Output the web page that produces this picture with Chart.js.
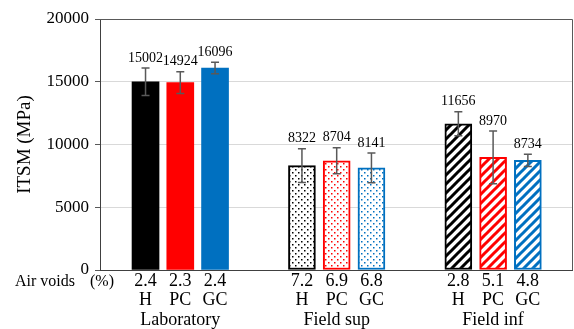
<!DOCTYPE html>
<html>
<head>
<meta charset="utf-8">
<script src="https://cdn.jsdelivr.net/npm/chart.js@4"></script>
<style>html,body{margin:0;padding:0;background:#fff}</style>
</head>
<body>
<canvas id="itsmChart" width="574" height="329"></canvas>
<script>
// Values
let groups = ['Laboratory', 'Field sup', 'Field inf'];
let mixes = ['H', 'PC', 'GC'];
let itsmLab = [15002, 14924, 16096];
let itsmSup = [8322, 8704, 8141];
let itsmInf = [11656, 8970, 8734];
let errLab = [1100, 870, 450];
let errSup = [1340, 1040, 1180];
let errInf = [950, 2100, 490];
let voidsLab = ['2.4', '2.3', '2.4'];
let voidsSup = ['7.2', '6.9', '6.8'];
let voidsInf = ['2.8', '5.1', '4.8'];
let yTicks = [0, 5000, 10000, 15000, 20000];

// Layout / styles
let groupStep = 4.5; // distance between groups, in bar slots
let colors = ['#000000', '#FF0000', '#0070C0'];
let serif = "'Liberation Serif', 'Times New Roman', serif";
let tickSize = 18;
let tickLine = 1.1;

let values = itsmLab.concat(itsmSup, itsmInf);
let errors = errLab.concat(errSup, errInf);
let voids = voidsLab.concat(voidsSup, voidsInf);
let xPos = [];
for (let g = 0; g < groups.length; g++) {
    for (let m = 0; m < mixes.length; m++) {
        xPos.push(g * groupStep + m);
    }
}

// Pattern fills: dots for field sup, stripes for field inf
function dotPattern(color){
    let c = document.createElement('canvas');
    c.width = 6; c.height = 6;
    let x = c.getContext('2d');
    x.fillStyle = '#fff';
    x.fillRect(0, 0, 6, 6);
    x.fillStyle = color;
    x.fillRect(1, 1, 1.5, 1.5);
    x.fillRect(4, 4, 1.5, 1.5);
    return x.createPattern(c, 'repeat');
}

function stripePattern(color){
    let s = 9;
    let c = document.createElement('canvas');
    c.width = s; c.height = s;
    let x = c.getContext('2d');
    x.fillStyle = '#fff';
    x.fillRect(0, 0, s, s);
    x.strokeStyle = color;
    x.lineWidth = 3;
    x.beginPath();
    x.moveTo(-2, s + 2); x.lineTo(s + 2, -2);
    x.moveTo(-2, 2); x.lineTo(2, -2);
    x.moveTo(s - 2, s + 2); x.lineTo(s + 2, s - 2);
    x.stroke();
    return x.createPattern(c, 'repeat');
}

let fills = [];
let borders = [];
let borderWidths = [];
for (let g = 0; g < groups.length; g++) {
    for (let m = 0; m < mixes.length; m++) {
        if (g == 0) fills.push(colors[m]);
        else if (g == 1) fills.push(dotPattern(colors[m]));
        else fills.push(stripePattern(colors[m]));
        borders.push(colors[m]);
        borderWidths.push(g == 0 ? 0 : 2);
    }
}

// error bars, value labels, frame and "Air voids (%)" text
const extrasPlugin = {
    id: 'extras',
    afterDatasetsDraw(chart){
        let ctx = chart.ctx;
        let yScale = chart.scales.y;
        let meta = chart.getDatasetMeta(0);
        ctx.save();
        for (let i = 0; i < values.length; i++) {
            let bx = meta.data[i].x;
            let yTop = yScale.getPixelForValue(values[i] + errors[i]);
            let yBot = yScale.getPixelForValue(values[i] - errors[i]);
            ctx.strokeStyle = '#595959';
            ctx.lineWidth = 1.5;
            ctx.beginPath();
            ctx.moveTo(bx, yTop); ctx.lineTo(bx, yBot);
            ctx.moveTo(bx - 4, yTop); ctx.lineTo(bx + 4, yTop);
            ctx.moveTo(bx - 4, yBot); ctx.lineTo(bx + 4, yBot);
            ctx.stroke();

            ctx.fillStyle = '#000';
            ctx.font = '14px ' + serif;
            ctx.textAlign = 'center';
            ctx.textBaseline = 'bottom';
            ctx.fillText(String(values[i]), bx, yTop - 3);
        }

        let area = chart.chartArea;
        ctx.strokeStyle = '#595959';
        ctx.lineWidth = 1;
        ctx.beginPath();
        ctx.moveTo(area.left, area.top + 0.5);
        ctx.lineTo(area.right + 0.5, area.top + 0.5);
        ctx.lineTo(area.right + 0.5, area.bottom);
        ctx.stroke();

        let xScale = chart.scales.x;
        let rowY = xScale.top + 2 + tickSize * tickLine / 2;
        ctx.fillStyle = '#000';
        ctx.font = '16px ' + serif;
        ctx.textBaseline = 'middle';
        ctx.textAlign = 'right';
        ctx.fillText('Air voids', 75, rowY);
        ctx.textAlign = 'left';
        ctx.fillText('(%)', 90, rowY);
        ctx.restore();
    }
};

new Chart(document.getElementById('itsmChart'), {
    type: 'bar',
    data: {
        datasets: [{
            data: values.map((v, i) => ({x: xPos[i], y: v})),
            backgroundColor: fills,
            borderColor: borders,
            borderWidth: borderWidths,
            borderSkipped: false,
            barThickness: 27
        }]
    },
    options: {
        responsive: false,
        animation: false,
        layout: {padding: {top: 19, right: 2, left: 0, bottom: 0}},
        plugins: {legend: {display: false}, tooltip: {enabled: false}},
        scales: {
            x: {
                type: 'linear',
                offset: false,
                min: -1.31,
                max: 12.27,
                afterBuildTicks: (scale) => { scale.ticks = xPos.map(v => ({value: v})); },
                afterFit: (scale) => { scale.height = 59; },
                grid: {display: false, drawTicks: false, offset: false},
                border: {display: true, color: '#404040', width: 1},
                ticks: {
                    autoSkip: false,
                    maxRotation: 0,
                    padding: 1,
                    color: '#000',
                    font: {family: serif, size: tickSize, lineHeight: tickLine},
                    callback: (value, index) => [voids[index], mixes[index % 3], index % 3 == 1 ? groups[Math.floor(index / 3)] : '']
                }
            },
            y: {
                min: 0,
                max: 20000,
                afterBuildTicks: (scale) => { scale.ticks = yTicks.map(v => ({value: v})); },
                afterFit: (scale) => { scale.width = 100; },
                grid: {
                    color: (c) => (c.tick && c.tick.value > 0 && c.tick.value < 20000) ? '#d9d9d9' : 'rgba(0,0,0,0)',
                    borderDash: [3, 3],
                    tickColor: '#595959',
                    tickLength: 5,
                    tickBorderDash: []
                },
                border: {display: true, color: '#404040', width: 1},
                ticks: {
                    padding: 6,
                    color: '#000',
                    font: {family: serif, size: 17},
                    callback: (v) => String(v)
                },
                title: {
                    display: true,
                    text: 'ITSM (MPa)',
                    color: '#000',
                    font: {family: serif, size: 19},
                    padding: {top: 14, bottom: 0}
                }
            }
        }
    },
    plugins: [extrasPlugin]
});
</script>
</body>
</html>
